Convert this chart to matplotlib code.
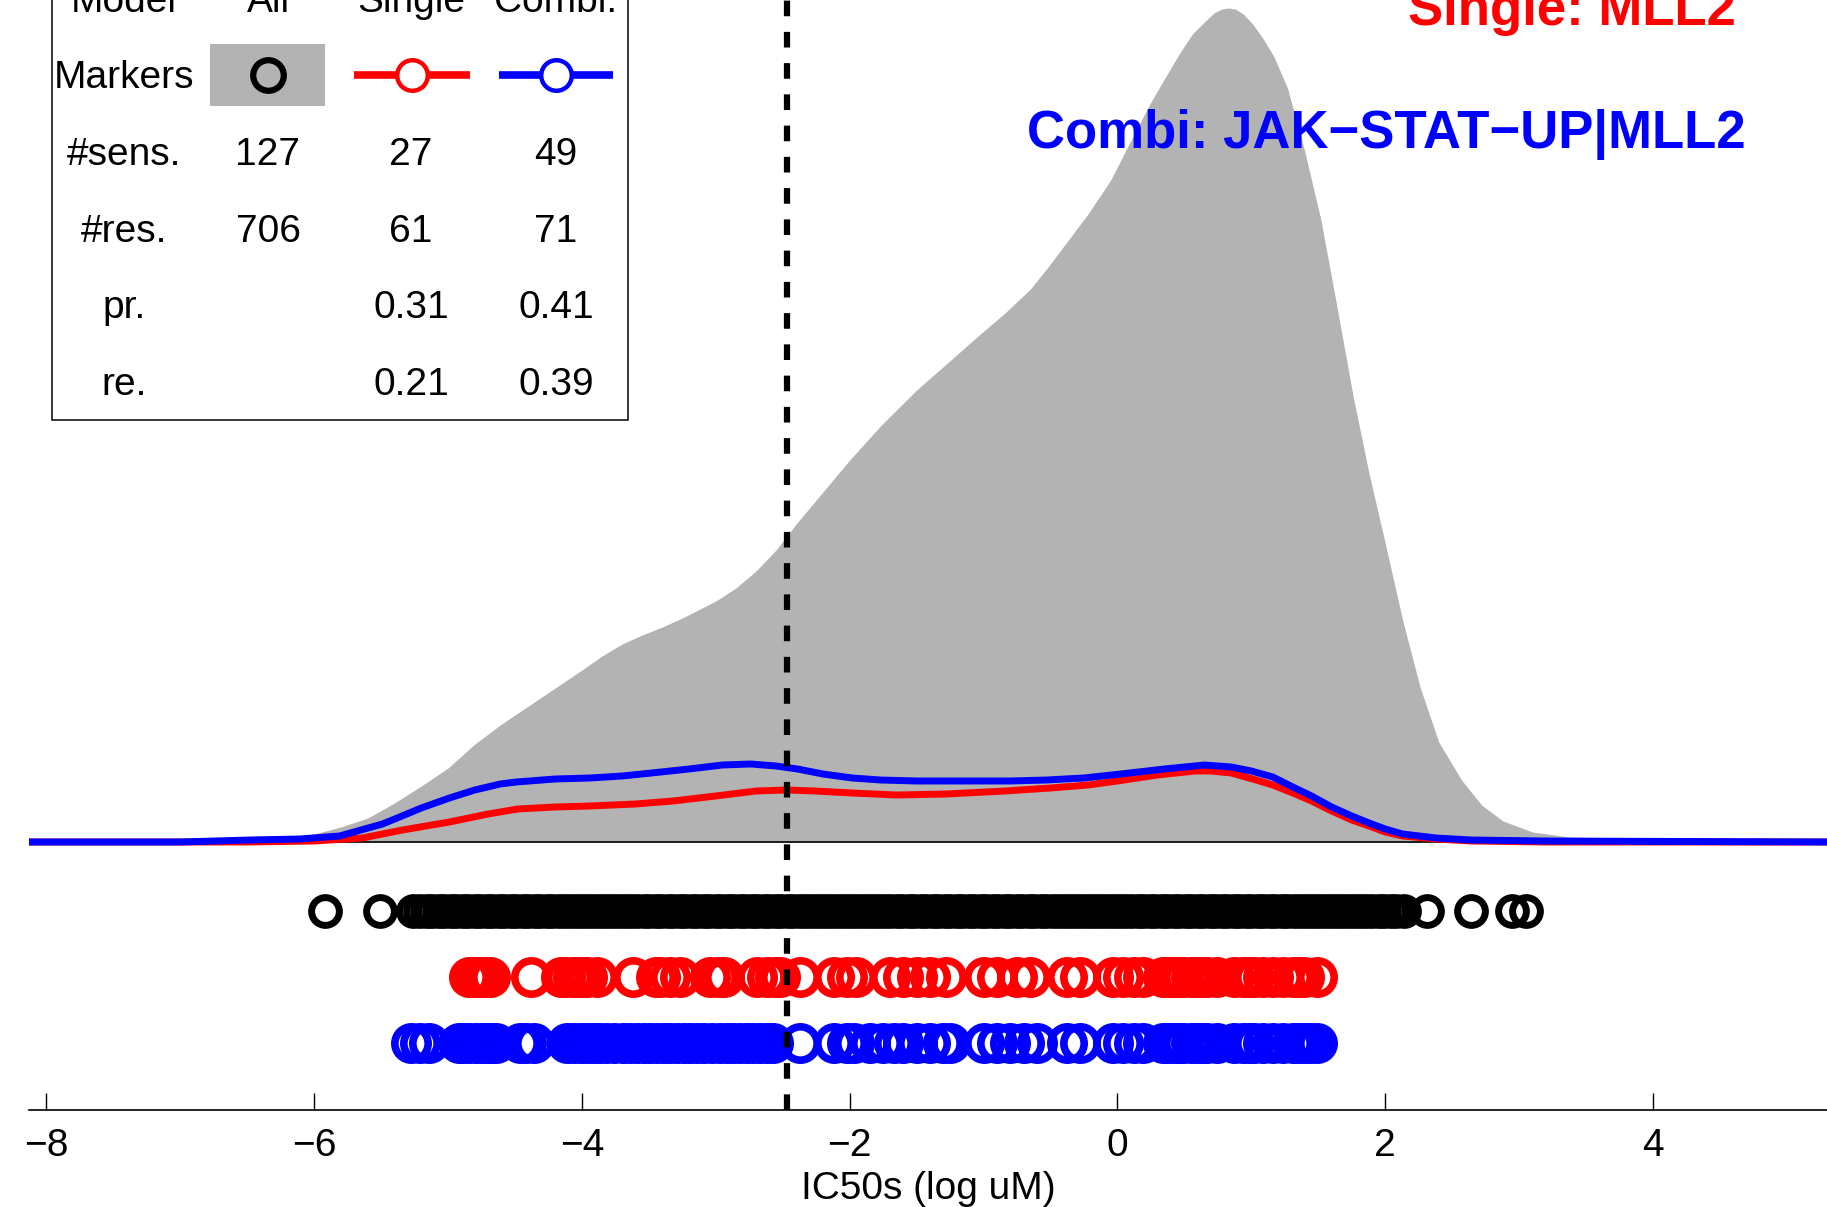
import numpy as np
import matplotlib
matplotlib.use("Agg")
import matplotlib.pyplot as plt
from matplotlib.patches import Rectangle

plt.rcParams['font.family'] = ['Liberation Sans', 'DejaVu Sans']

# ---- data ----
# density curves (x = IC50 in log uM, y = relative density)
all_x = [-8.13, -7.2, -6.8, -6.5, -6.2, -6.0, -5.8, -5.6, -5.4, -5.2, -5.0, -4.8, -4.6, -4.4,
         -4.2, -4.0, -3.85, -3.7, -3.55, -3.4, -3.25, -3.0, -2.85, -2.7, -2.55, -2.4, -2.2,
         -2.0, -1.77, -1.5, -1.27, -1.05, -0.84, -0.65, -0.53, -0.4, -0.22, -0.05, 0.09, 0.25,
         0.39, 0.47, 0.56, 0.65, 0.72, 0.78, 0.83, 0.88, 0.94, 1.01, 1.09, 1.17, 1.27, 1.4,
         1.52, 1.64, 1.76, 1.88, 2.01, 2.13, 2.26, 2.4, 2.57, 2.72, 2.88, 3.1, 3.37, 3.7, 4.2,
         5.3]
all_y = [0.0, 0.0, 0.001, 0.002, 0.004, 0.008, 0.015, 0.024, 0.039, 0.056, 0.074, 0.098, 0.118,
         0.136, 0.154, 0.172, 0.186, 0.198, 0.207, 0.215, 0.224, 0.241, 0.254, 0.271, 0.292,
         0.318, 0.350, 0.382, 0.416, 0.452, 0.479, 0.505, 0.529, 0.553, 0.573, 0.596, 0.628,
         0.662, 0.699, 0.740, 0.772, 0.790, 0.808, 0.820, 0.829, 0.833, 0.834, 0.833, 0.828,
         0.818, 0.803, 0.785, 0.754, 0.690, 0.622, 0.535, 0.446, 0.368, 0.293, 0.222, 0.155,
         0.100, 0.062, 0.037, 0.021, 0.010, 0.005, 0.003, 0.001, 0.0]

single_x = [-8.13, -6.5, -6.0, -5.64, -5.34, -4.99, -4.7, -4.48, -4.2, -3.94, -3.6, -3.32, -3.0,
            -2.7, -2.47, -2.26, -1.98, -1.65, -1.28, -0.84, -0.5, -0.22, 0.0, 0.3, 0.58, 0.7,
            0.85, 1.01, 1.16, 1.31, 1.45, 1.6, 1.75, 1.88, 2.0, 2.13, 2.38, 2.64, 3.2, 5.3]
single_y = [0.0, 0.0, 0.001, 0.004, 0.012, 0.020, 0.028, 0.033, 0.035, 0.036, 0.038, 0.041, 0.046,
            0.051, 0.052, 0.051, 0.049, 0.047, 0.048, 0.051, 0.054, 0.057, 0.061, 0.067, 0.071,
            0.071, 0.069, 0.063, 0.057, 0.049, 0.041, 0.031, 0.022, 0.016, 0.010, 0.006, 0.003,
            0.001, 0.0, 0.0]

combi_x = [-8.13, -7.0, -6.48, -6.11, -5.81, -5.49, -5.38, -5.2, -4.99, -4.8, -4.61, -4.49, -4.2,
           -3.94, -3.7, -3.48, -3.2, -2.95, -2.74, -2.55, -2.39, -2.2, -1.98, -1.77, -1.5, -1.15,
           -0.8, -0.53, -0.25, 0.09, 0.35, 0.65, 0.85, 1.0, 1.16, 1.31, 1.45, 1.6, 1.75, 1.88,
           2.0, 2.13, 2.38, 2.64, 3.2, 5.3]
combi_y = [0.0, 0.0, 0.002, 0.003, 0.006, 0.018, 0.024, 0.034, 0.044, 0.052, 0.058, 0.060, 0.063,
           0.064, 0.066, 0.069, 0.073, 0.077, 0.078, 0.076, 0.073, 0.068, 0.064, 0.062, 0.061,
           0.061, 0.061, 0.062, 0.064, 0.069, 0.073, 0.077, 0.075, 0.071, 0.065, 0.055, 0.046,
           0.035, 0.026, 0.019, 0.013, 0.008, 0.004, 0.002, 0.001, 0.0]

# IC50 values of cell lines (markers)
all_ic50 = [-5.92, -5.51, -5.26, -5.21, -5.16, -5.12, -5.07, -5.03, -4.98, -4.94, -4.89, -4.85,
            -4.80, -4.76, -4.71, -4.67, -4.62, -4.58, -4.53, -4.49, -4.44, -4.40, -4.35, -4.31,
            -4.26, -4.22, -4.17, -4.13, -4.08, -4.04, -3.99, -3.95, -3.90, -3.86, -3.81, -3.77,
            -3.72, -3.68, -3.63, -3.59, -3.54, -3.50, -3.45, -3.41, -3.36, -3.32, -3.27, -3.23,
            -3.18, -3.14, -3.09, -3.05, -3.00, -2.96, -2.91, -2.87, -2.82, -2.78, -2.73, -2.69,
            -2.64, -2.60, -2.55, -2.51, -2.46, -2.42, -2.37, -2.33, -2.28, -2.24, -2.19, -2.15,
            -2.10, -2.06, -2.01, -1.97, -1.92, -1.88, -1.83, -1.79, -1.74, -1.70, -1.65, -1.61,
            -1.56, -1.52, -1.47, -1.43, -1.38, -1.34, -1.29, -1.25, -1.20, -1.16, -1.11, -1.07,
            -1.02, -0.98, -0.93, -0.89, -0.84, -0.80, -0.75, -0.71, -0.66, -0.62, -0.57, -0.53,
            -0.48, -0.44, -0.39, -0.35, -0.30, -0.26, -0.21, -0.17, -0.12, -0.08, -0.03, 0.01,
            0.06, 0.10, 0.15, 0.19, 0.24, 0.28, 0.33, 0.37, 0.42, 0.46, 0.51, 0.55, 0.60, 0.64,
            0.69, 0.73, 0.78, 0.82, 0.87, 0.91, 0.96, 1.00, 1.05, 1.09, 1.14, 1.18, 1.23, 1.27,
            1.32, 1.36, 1.41, 1.45, 1.50, 1.54, 1.59, 1.63, 1.68, 1.72, 1.77, 1.81, 1.86, 1.90,
            1.95, 1.99, 2.04, 2.08, 2.14, 2.31, 2.64, 2.95, 3.05]
single_ic50 = [-4.84, -4.81, -4.78, -4.76, -4.72, -4.69, -4.38, -4.16, -4.13, -4.07, -4.04, -3.99,
               -3.96, -3.89, -3.62, -3.45, -3.42, -3.34, -3.27, -3.04, -2.98, -2.94, -2.69, -2.62,
               -2.56, -2.52, -2.37, -2.12, -2.02, -1.95, -1.70, -1.60, -1.50, -1.40, -1.28, -1.00,
               -0.90, -0.75, -0.65, -0.38, -0.28, -0.03, 0.04, 0.12, 0.19, 0.34, 0.38, 0.42, 0.46,
               0.49, 0.55, 0.59, 0.63, 0.67, 0.74, 0.87, 0.94, 0.98, 1.02, 1.09, 1.16, 1.24, 1.31,
               1.35, 1.39, 1.49]
combi_ic50 = [-5.28, -5.21, -5.14, -4.92, -4.89, -4.84, -4.79, -4.75, -4.71, -4.67, -4.64, -4.46,
              -4.42, -4.36, -4.11, -4.06, -4.01, -3.96, -3.92, -3.87, -3.82, -3.76, -3.69, -3.64,
              -3.59, -3.54, -3.49, -3.44, -3.39, -3.34, -3.29, -3.24, -3.19, -3.14, -3.09, -3.03,
              -2.97, -2.92, -2.87, -2.82, -2.77, -2.72, -2.67, -2.62, -2.57, -2.37, -2.12, -2.02,
              -1.97, -1.85, -1.75, -1.67, -1.60, -1.50, -1.40, -1.30, -1.25, -1.00, -0.90, -0.80,
              -0.70, -0.60, -0.38, -0.28, -0.03, 0.04, 0.12, 0.19, 0.34, 0.38, 0.42, 0.46, 0.49,
              0.55, 0.59, 0.63, 0.67, 0.74, 0.87, 0.94, 0.98, 1.02, 1.09, 1.16, 1.24, 1.31, 1.35,
              1.39, 1.44, 1.49]

threshold = -2.47

col_names = ['Model', 'All', 'Single', 'Combi.']
row_names = ['#sens.', '#res.', 'pr.', 're.']
table_vals = [['127', '27', '49'],
              ['706', '61', '71'],
              ['', '0.31', '0.41'],
              ['', '0.21', '0.39']]
single_name = 'Single: MLL2'
combi_name = 'Combi: JAK\u2212STAT\u2212UP|MLL2'

GRAY = '#b3b3b3'
RED = '#ff0000'
BLUE = '#0000ff'

W, H = 1827, 1207
fig = plt.figure(figsize=(W / 100, H / 100), dpi=100)
ax = fig.add_axes([29 / W, 97 / H, 1 - 29 / W, 1110 / H])

ax.fill_between(all_x, 0, all_y, color=GRAY, lw=0, zorder=1)
ax.axhline(0, color='black', lw=1.2, zorder=2)
ax.plot(single_x, single_y, color=RED, lw=5, solid_capstyle='butt', zorder=3)
ax.plot(combi_x, combi_y, color=BLUE, lw=5, solid_capstyle='butt', zorder=4)

rows = [(all_ic50, 'black', -0.069, 20, 5.0),
        (single_ic50, RED, -0.135, 24, 5.5),
        (combi_ic50, BLUE, -0.201, 24, 5.5)]
for vals, c, yrow, ms, mew in rows:
    ax.plot(vals, [yrow] * len(vals), 'o', ms=ms, mfc='none', mec=c, mew=mew,
            zorder=5, clip_on=False)

ax.axvline(threshold, color='black', lw=4.5, dashes=(2.5, 2.5), zorder=6)

ax.set_xlim(-8.13, 5.30)
ax.set_ylim(-0.268, 0.842)
ax.set_xticks([-8, -6, -4, -2, 0, 2, 4])
ax.set_yticks([])
for s in ['top', 'right', 'left']:
    ax.spines[s].set_visible(False)
ax.spines['bottom'].set_linewidth(1.2)
ax.tick_params(axis='x', direction='in', length=12, width=1, pad=13, labelsize=28)
ax.set_xlabel('IC50s (log uM)', fontsize=28)
ax.xaxis.set_label_coords(0.5, -0.0715)
ax.xaxis.label.set_va('center')

# table and annotations in pixel coordinates
lay = fig.add_axes([0, 0, 1, 1], zorder=10)
lay.set_xlim(0, W)
lay.set_ylim(H, 0)
lay.axis('off')

lay.add_patch(Rectangle((52, -60), 576, 479.5, fc='white', ec='black', lw=1.1))
col_x = [124, 268, 411, 556]
row_base = [11.7, 88.3, 165, 241.7, 318.3, 395]
for cx, name in zip(col_x, col_names):
    lay.text(cx, row_base[0], name, fontsize=28, ha='center', va='baseline')
lay.text(col_x[0], row_base[1], 'Markers', fontsize=28, ha='center', va='baseline')
for i, name in enumerate(row_names):
    lay.text(col_x[0], row_base[i + 2], name, fontsize=28, ha='center', va='baseline')
    for j, v in enumerate(table_vals[i]):
        lay.text(col_x[j + 1], row_base[i + 2], v, fontsize=28, ha='center', va='baseline')

lay.add_patch(Rectangle((210, 44), 115, 62, fc=GRAY, ec='none'))
lay.plot([268], [75], 'o', ms=22, mfc='none', mec='black', mew=4.5)
lay.plot([354, 470], [75, 75], color=RED, lw=5.5, solid_capstyle='butt')
lay.plot([412], [75], 'o', ms=22, mfc='white', mec=RED, mew=3.2)
lay.plot([499, 613], [75, 75], color=BLUE, lw=5.5, solid_capstyle='butt')
lay.plot([556], [75], 'o', ms=22, mfc='white', mec=BLUE, mew=3.2)

lay.text(1736, 25, single_name, fontsize=38, fontweight='bold', color=RED,
         ha='right', va='baseline')
lay.text(1746, 148, combi_name, fontsize=38, fontweight='bold', color=BLUE,
         ha='right', va='baseline')

fig.savefig('out.png', dpi=100)
